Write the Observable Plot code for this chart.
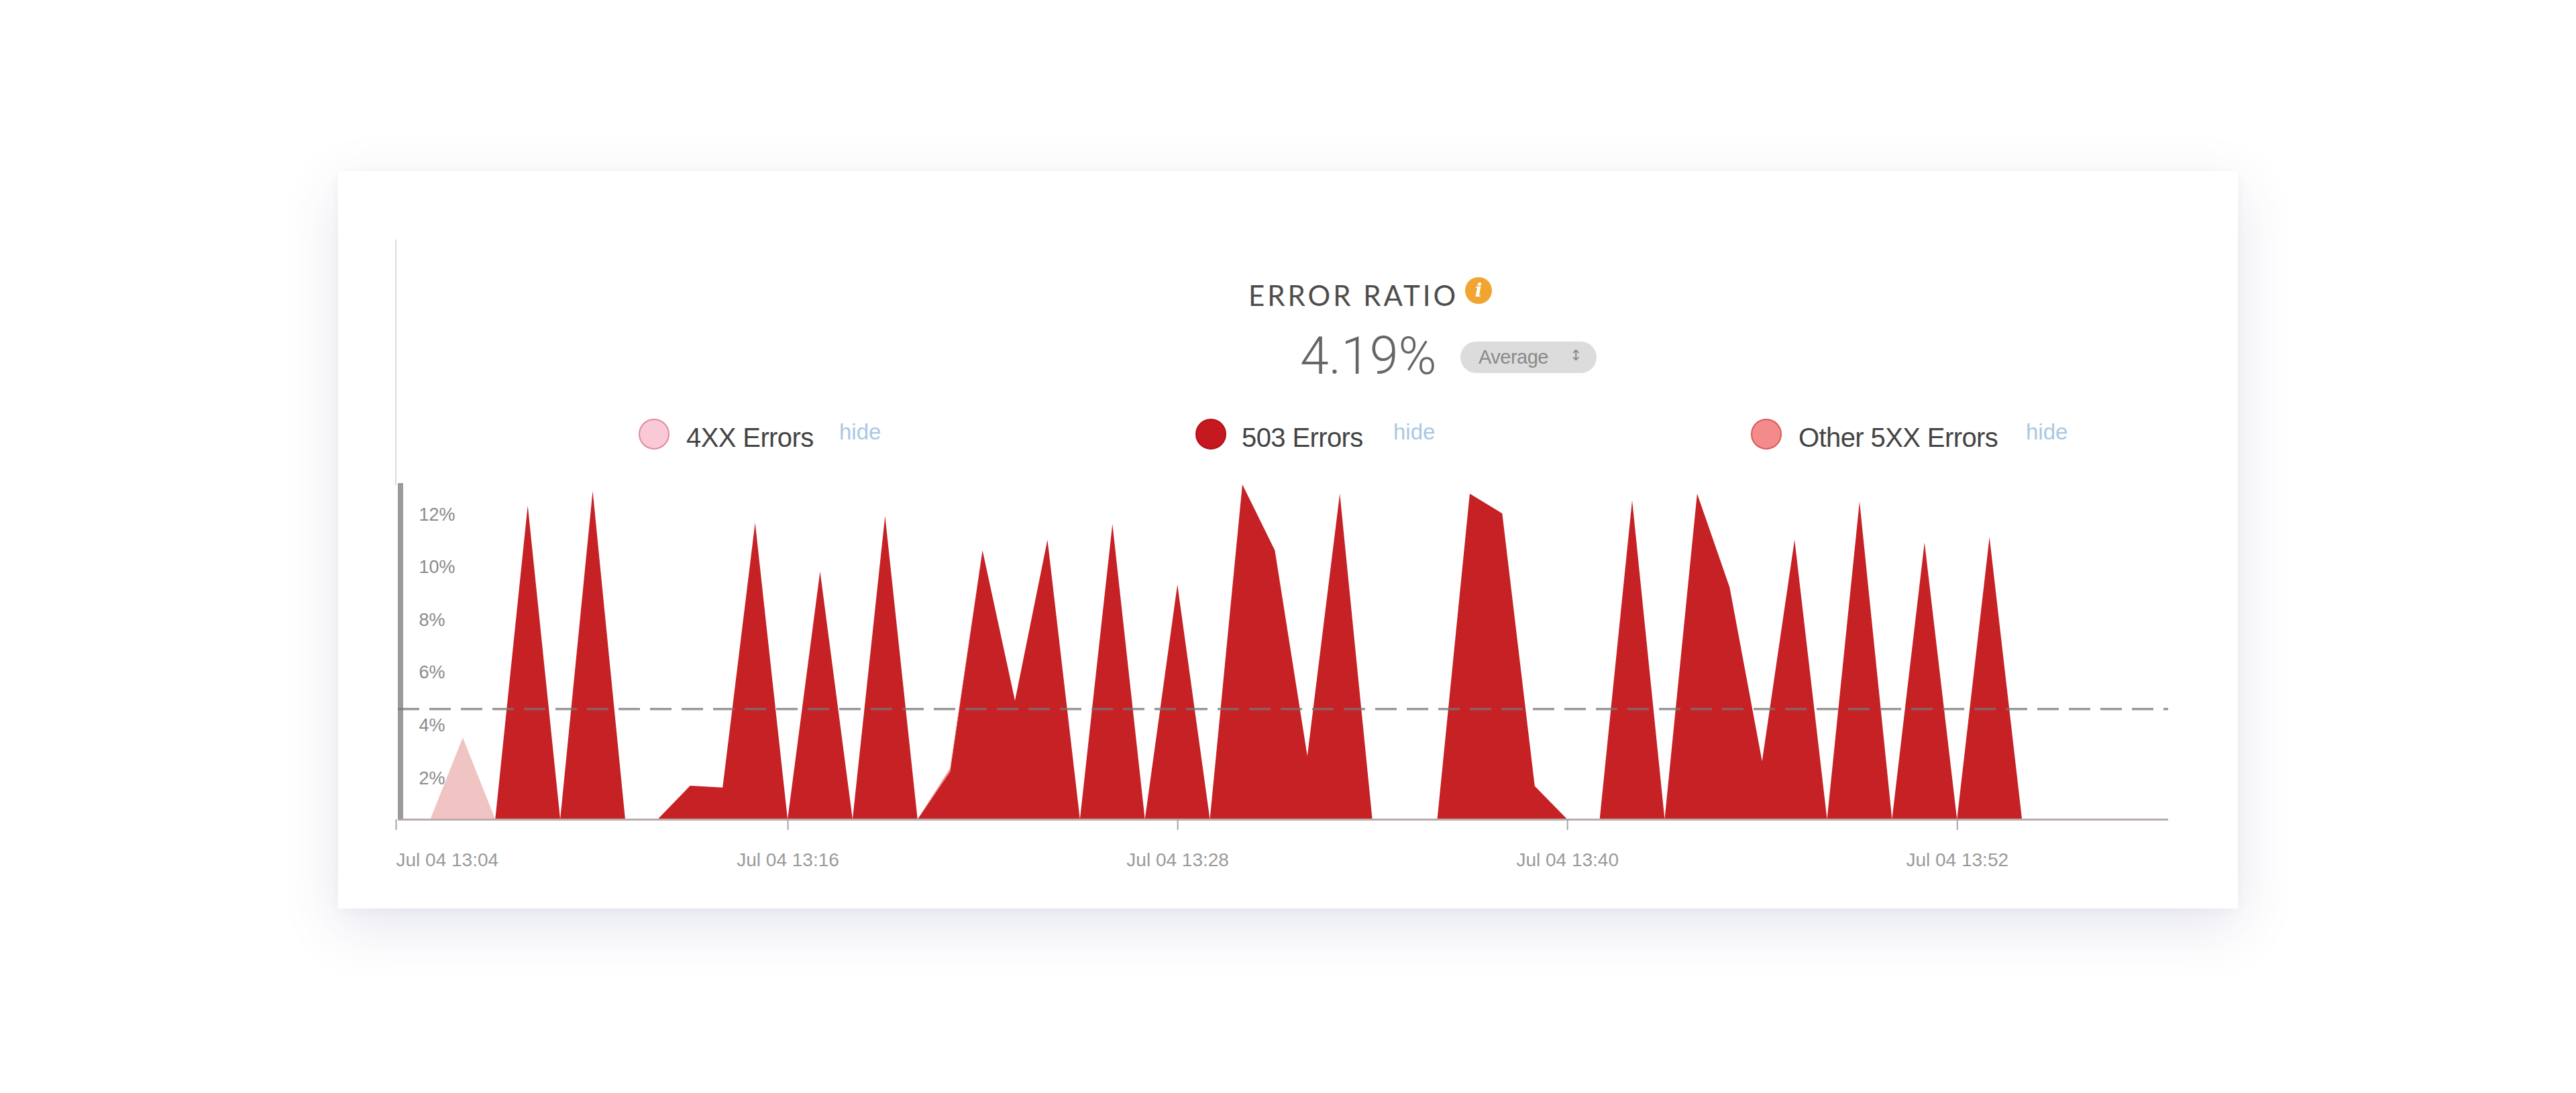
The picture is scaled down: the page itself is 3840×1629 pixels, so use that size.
<!DOCTYPE html>
<html>
<head>
<meta charset="utf-8">
<script src="https://cdn.jsdelivr.net/npm/d3@7"></script>
<script src="https://cdn.jsdelivr.net/npm/@observablehq/plot@0.6"></script>
<style>
html, body { margin:0; padding:0; background:#ffffff; width:3840px; height:1629px; overflow:hidden;
  font-family:"Liberation Sans", Arial, sans-serif; }
#card { position:absolute; left:504px; top:255px; width:2832px; height:1099px; background:#fff;
  box-shadow: 0 26px 80px rgba(55,65,120,0.13), 0 4px 14px rgba(55,65,120,0.04); }
.abs { position:absolute; white-space:nowrap; line-height:1; }
#title { left:1861px; top:419px; font-family:Lato, "Open Sans", sans-serif; font-size:42px; letter-spacing:4px; color:#4d4d4d; }
#info { left:2184px; top:413px; width:40px; height:40px; border-radius:50%; background:#f2a431;
  color:#fff; font-family:"DejaVu Serif", serif; font-style:italic; font-weight:bold; font-size:28px; line-height:40px; text-align:center; }
#value { left:1938px; top:493px; font-family:Roboto, "Open Sans", sans-serif; font-weight:300; font-size:77px; color:#666; }
#pill { left:2177px; top:509px; width:203px; height:47px; border-radius:24px; background:#dcdcdc; }
#pillText { left:2204px; top:518px; font-size:29px; color:#8a8a8a; letter-spacing:-0.5px; }
#pillArrow { left:2340px; top:519px; font-family:"DejaVu Sans", sans-serif; font-size:22px; color:#8a8a8a; }
.dot { position:absolute; width:46px; height:46px; border-radius:50%; box-sizing:border-box; border:2px solid; }
.lg { font-size:40px; color:#444; letter-spacing:-0.6px; }
.hide { font-size:33px; color:#a9c8e4; }
#vline { position:absolute; left:589px; top:357px; width:2px; height:366px; background:#dadada; }
#chart { position:absolute; left:560px; top:700px; }
</style>
</head>
<body>
<div id="card"></div>
<div id="vline"></div>
<div class="abs" id="title">ERROR RATIO</div>
<div class="abs" id="info">i</div>
<div class="abs" id="value">4.19%</div>
<div class="abs" id="pill"></div>
<div class="abs" id="pillText">Average</div>
<div class="abs" id="pillArrow">↕</div>
<div id="legend"></div>
<div id="chart"></div>
<script>
// ---- data (one point per minute, Jul 04) ----
const minutes = ["13:04","13:05","13:06","13:07","13:08","13:09","13:10","13:11","13:12","13:13",
  "13:14","13:15","13:16","13:17","13:18","13:19","13:20","13:21","13:22","13:23",
  "13:24","13:25","13:26","13:27","13:28","13:29","13:30","13:31","13:32","13:33",
  "13:34","13:35","13:36","13:37","13:38","13:39","13:40","13:41","13:42","13:43",
  "13:44","13:45","13:46","13:47","13:48","13:49","13:50","13:51","13:52","13:53",
  "13:54","13:55","13:56","13:57","13:58"];
const err4xx = [0,0,3.1,0,0,0,0,0,0,0, 0,0,0,0,0,0,0,0,0,0, 0,0,0,0,0,0,0,0,0,0,
  0,0,0,0,0,0,0,0,0,0, 0,0,0,0,0,0,0,0,0,0, 0,0,0,0,0];
const err503 = [0,0,0,0,11.9,0,12.45,0,0,1.27, 1.2,11.25,0,9.4,0,11.5,0,1.8,10.2,4.5,
  10.6,0,11.2,0,8.9,0,12.7,10.2,2.4,12.35, 0,0,0,12.35,11.6,1.26,0,0,12.1,0,
  12.35,8.8,2.2,10.6,0,12.05,0,10.5,0,10.7, 0,0,0,0,0];
const errOther = [0,0,0,0,0,0,0,0,0,0, 0,0,0,0,0,0,0,0.12,0,0, 0,0,0,0,0,0,0,0,0,0,
  0,0,0,0,0,0,0,0,0,0, 0,0,0,0,0,0,0,0,0,0, 0,0,0,0,0];
const seriesNames = ["4XX Errors", "503 Errors", "Other 5XX Errors"];
const seriesColors = ["#f1c4c4", "#c62125", "#ef8686"];
const yTicks = [2, 4, 6, 8, 10, 12];
const xTickTimes = ["13:04", "13:16", "13:28", "13:40", "13:52"];
const averageRatio = 4.19;
const yMax = 12.75;
const xStart = "13:04";
const xEnd = "13:58:30";

// ---- legend (HTML) ----
const legendDots = [
  {fill:"#f9c9d5", stroke:"#e08a9e", cx:975, text:1023, hide:1251},
  {fill:"#c5191f", stroke:"#b31117", cx:1805, text:1851, hide:2077},
  {fill:"#f48b8b", stroke:"#d85a58", cx:2633, text:2681, hide:3020}
];
const legend = document.getElementById("legend");
seriesNames.forEach((name, i) => {
  const L = legendDots[i];
  const dot = document.createElement("div");
  dot.className = "dot";
  dot.style.left = (L.cx - 23) + "px"; dot.style.top = (647 - 23) + "px";
  dot.style.background = L.fill; dot.style.borderColor = L.stroke;
  legend.appendChild(dot);
  const t = document.createElement("div");
  t.className = "abs lg"; t.textContent = name;
  t.style.left = L.text + "px"; t.style.top = (652 - 20) + "px";
  legend.appendChild(t);
  const h = document.createElement("div");
  h.className = "abs hide"; h.textContent = "hide";
  h.style.left = L.hide + "px"; h.style.top = (644 - 17) + "px";
  legend.appendChild(h);
});

// ---- chart ----
const toDate = s => { const [h, m, sec] = s.split(":").map(Number); return new Date(Date.UTC(2017, 6, 4, h, m, sec || 0)); };
const rows = [];
minutes.forEach((m, i) => {
  rows.push({t: toDate(m), v: err4xx[i], s: seriesNames[0]});
  rows.push({t: toDate(m), v: err503[i], s: seriesNames[1]});
  rows.push({t: toDate(m), v: errOther[i], s: seriesNames[2]});
});
const xTicks = xTickTimes.map(toDate);
const fmt = d3.utcFormat("%b %d %H:%M");
const t0 = toDate(xStart);

const chart = Plot.plot({
  width: 2720,
  height: 620,
  marginLeft: 33,
  marginRight: 48,
  marginTop: 20,
  marginBottom: 99,
  style: {fontFamily: "'Liberation Sans', Arial, sans-serif", background: "transparent", overflow: "visible"},
  x: {type: "utc", domain: [t0, toDate(xEnd)], label: null, axis: null},
  y: {domain: [0, yMax], label: null, axis: null},
  color: {domain: seriesNames, range: seriesColors},
  marks: [
    Plot.areaY(rows, {x: "t", y: "v", fill: "s", order: seriesNames, curve: "linear"}),
    Plot.ruleY([0], {stroke: "#b9abab", strokeWidth: 3}),
    Plot.ruleX([t0], {y1: 0, y2: yMax, stroke: "#9b9b9b", strokeWidth: 8, dx: 3.5}),
    Plot.ruleY([averageRatio], {stroke: "#777", strokeOpacity: 0.75, strokeWidth: 3.5, strokeDasharray: "32,15"}),
    Plot.axisY(yTicks, {anchor: "left", tickSize: 0, tickPadding: 0, textAnchor: "start", dx: 31, dy: 17,
      tickFormat: d => d + "%", fill: "#8a8a8a", fontSize: 27, label: null}),
    Plot.axisX(xTicks.slice(0, 1), {anchor: "bottom", tickSize: 16, tickPadding: 34, stroke: "#a5a5a5", strokeWidth: 2,
      textAnchor: "start", dx: -3, tickFormat: fmt, fill: "#9a9a9a", fontSize: 28, label: null}),
    Plot.axisX(xTicks.slice(1), {anchor: "bottom", tickSize: 16, tickPadding: 34, stroke: "#a5a5a5", strokeWidth: 2,
      tickFormat: fmt, fill: "#9a9a9a", fontSize: 28, label: null})
  ]
});
document.getElementById("chart").appendChild(chart);
</script>
</body>
</html>
